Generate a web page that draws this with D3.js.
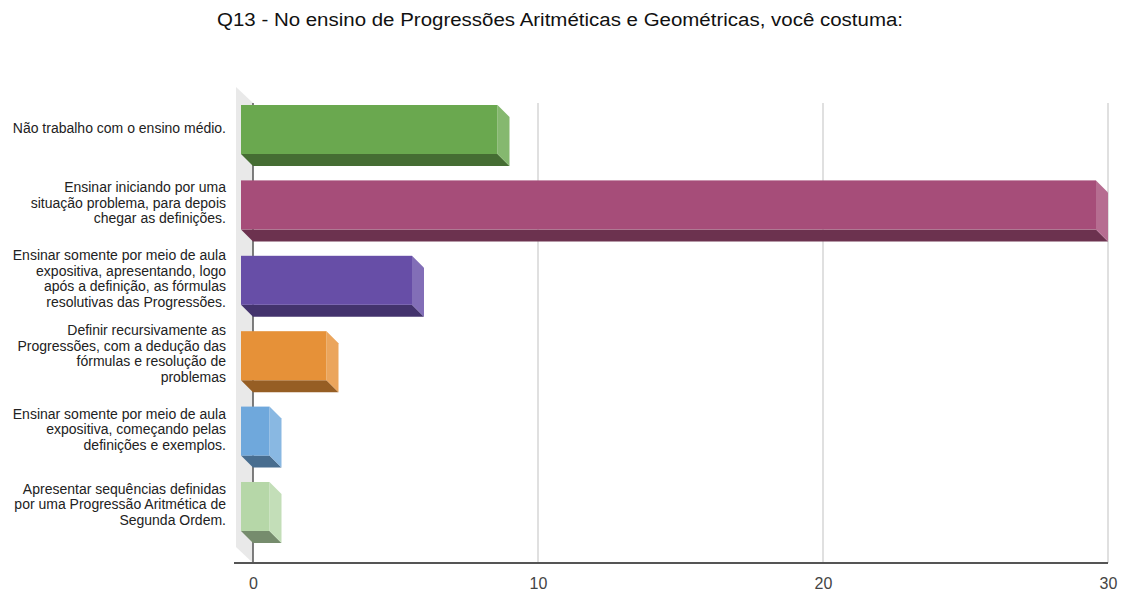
<!DOCTYPE html>
<html>
<head>
<meta charset="utf-8">
<script src="https://cdn.jsdelivr.net/npm/d3@7"></script>
<style>
  html, body { margin: 0; padding: 0; background: #fff; }
  svg { display: block; font-family: "Liberation Sans", Arial, sans-serif; }
</style>
</head>
<body>
<svg id="chart" width="1121" height="591"></svg>
<script>
// Survey answers (line breaks mark how each label wraps)
const categories = [
  "Não trabalho com o ensino médio.",
  "Ensinar iniciando por uma\nsituação problema, para depois\nchegar as definições.",
  "Ensinar somente por meio de aula\nexpositiva, apresentando, logo\napós a definição, as fórmulas\nresolutivas das Progressões.",
  "Definir recursivamente as\nProgressões, com a dedução das\nfórmulas e resolução de\nproblemas",
  "Ensinar somente por meio de aula\nexpositiva, começando pelas\ndefinições e exemplos.",
  "Apresentar sequências definidas\npor uma Progressão Aritmética de\nSegunda Ordem."
];
const values = [9, 30, 6, 3, 1, 1];
const colors = ["#6aa84f", "#a64d79", "#674ea7", "#e69138", "#6fa8dc", "#b6d7a8"];
const tickValues = [0, 10, 20, 30];
const title = "Q13 - No ensino de Progressões Aritméticas e Geométricas, você costuma:";

const svg = d3.select("#chart");
const depth = 12;           // 3D extrusion offset
const axisY = 563;
const plotTop = 103;

const x = d3.scaleLinear().domain([0, 30]).range([253, 1108]);
const y = d3.scaleBand()
  .domain(categories)
  .range([105, 105 + 5 * 75.4 + 49])
  .paddingInner(0.35)
  .paddingOuter(0);

// Title
svg.append("text")
  .attr("x", 217).attr("y", 26)
  .attr("font-size", 18)
  .attr("textLength", 686)
  .attr("lengthAdjust", "spacingAndGlyphs")
  .attr("fill", "#111")
  .text(title);

// Back wall of the 3D plot
svg.append("polygon")
  .attr("points", [[236, 87], [253, 103], [253, axisY], [236, axisY - 16]].map(p => p.join(",")).join(" "))
  .attr("fill", "#e9e9e9");

// Vertical gridlines
svg.append("g")
  .selectAll("line")
  .data(tickValues.filter(t => t !== 0))
  .join("line")
  .attr("x1", d => x(d)).attr("x2", d => x(d))
  .attr("y1", plotTop).attr("y2", axisY)
  .attr("stroke", "#cccccc")
  .attr("stroke-width", 1.2);

// Zero baseline
svg.append("line")
  .attr("x1", x(0)).attr("x2", x(0))
  .attr("y1", plotTop).attr("y2", axisY)
  .attr("stroke", "#555")
  .attr("stroke-width", 1.5);

// Horizontal axis line
svg.append("line")
  .attr("x1", 234).attr("x2", x(30))
  .attr("y1", axisY).attr("y2", axisY)
  .attr("stroke", "#555")
  .attr("stroke-width", 2);

// Tick labels via d3 axis
const axis = d3.axisBottom(x).tickValues(tickValues).tickSize(0).tickPadding(0);
const axisG = svg.append("g").attr("transform", `translate(0, ${axisY})`).call(axis);
axisG.select(".domain").remove();
axisG.selectAll("text")
  .attr("y", 26)
  .attr("dy", null)
  .attr("font-size", 16)
  .attr("font-family", "'Liberation Sans', Arial, sans-serif")
  .attr("fill", "#444");

// 3D bars
const bars = svg.append("g")
  .selectAll("g")
  .data(categories.map((c, i) => ({ c, v: values[i], color: colors[i] })))
  .join("g");

const pts = arr => arr.map(p => p.join(",")).join(" ");

// bottom face (darker)
bars.append("polygon")
  .attr("points", d => {
    const y0 = y(d.c) + y.bandwidth();
    return pts([[x(0) - depth, y0], [x(d.v) - depth, y0], [x(d.v), y0 + depth], [x(0), y0 + depth]]);
  })
  .attr("fill", d => d3.interpolateRgb(d.color, "#000")(0.35));

// right side face (lighter)
bars.append("polygon")
  .attr("points", d => {
    const y0 = y(d.c), h = y.bandwidth(), xe = x(d.v);
    return pts([[xe - depth, y0], [xe, y0 + depth], [xe, y0 + h + depth], [xe - depth, y0 + h]]);
  })
  .attr("fill", d => d3.interpolateRgb(d.color, "#fff")(0.18));

// front face
bars.append("rect")
  .attr("x", x(0) - depth)
  .attr("y", d => y(d.c))
  .attr("width", d => x(d.v) - x(0))
  .attr("height", y.bandwidth())
  .attr("fill", d => d.color);

// Category labels
const lineH = 15.5;
svg.append("g")
  .selectAll("text")
  .data(categories)
  .join("text")
  .attr("text-anchor", "end")
  .attr("font-size", 14)
  .attr("fill", "#222")
  .each(function (d) {
    const lines = d.split("\n");
    const cy = y(d) + y.bandwidth() / 2 - 2;
    const startY = cy - (lines.length - 1) * lineH / 2 + 5;
    d3.select(this).selectAll("tspan")
      .data(lines)
      .join("tspan")
      .attr("x", 226)
      .attr("y", (l, i) => startY + i * lineH)
      .text(l => l);
  });
</script>
</body>
</html>
